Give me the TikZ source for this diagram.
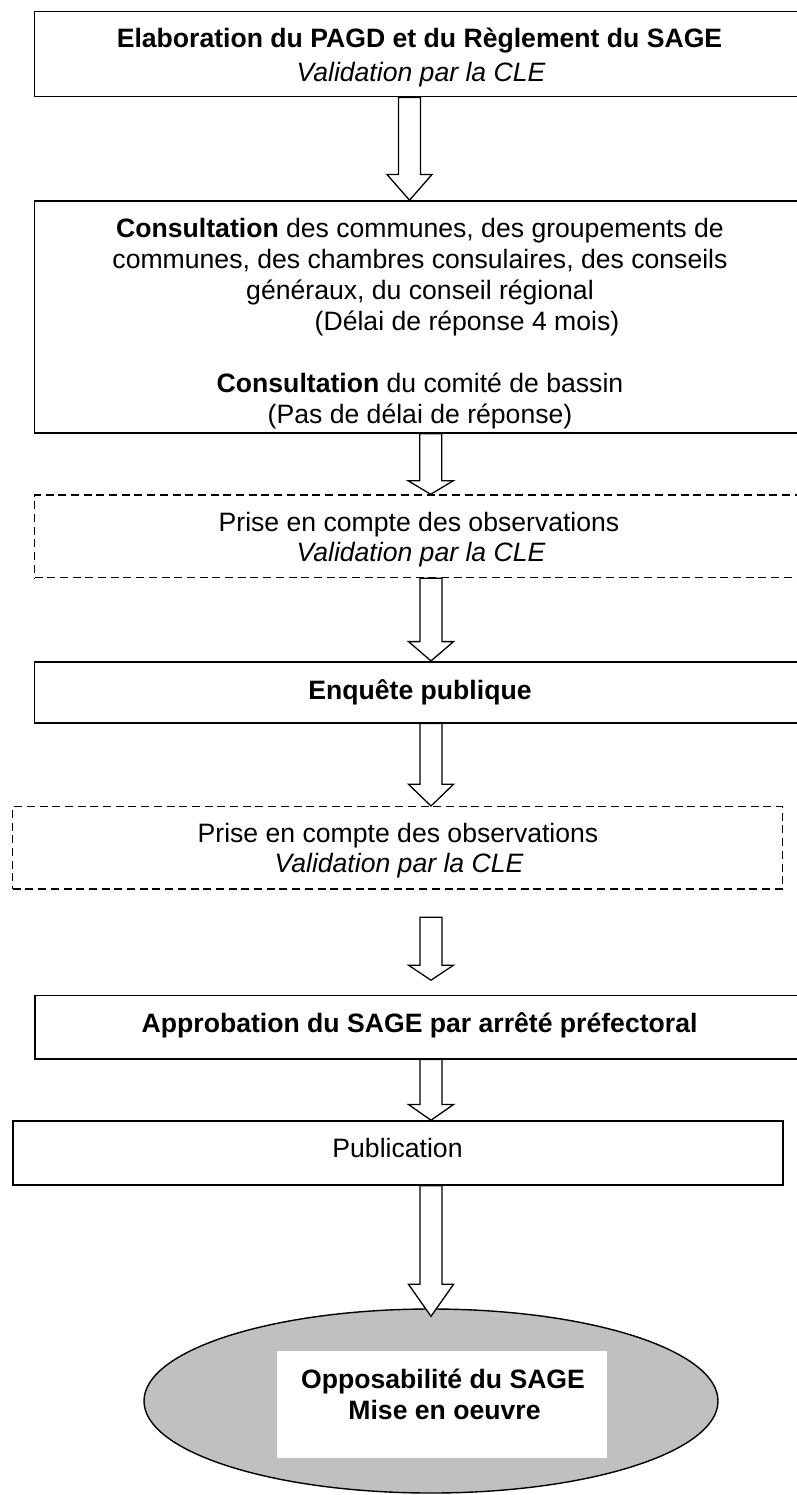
\documentclass[tikz,border=0pt]{standalone}
\usepackage{fontspec}
\setmainfont{Liberation Sans}
\usetikzlibrary{shapes.geometric,calc}
\definecolor{ellgray}{HTML}{C0C0C0}
\tikzset{
  boxframe/.style={draw, line width=1.6pt, rectangle, inner sep=0pt},
  dashframe/.style={boxframe, line width=1.3pt, dash pattern=on 8pt off 4.7pt},
  arr/.style={draw, line width=1.3pt, fill=white, line join=miter},
  txt/.style={anchor=base, inner sep=0pt, font=\fontsize{26.6}{30.9}\selectfont},
  btxt/.style={txt, font=\fontsize{26.6}{30.9}\selectfont\bfseries},
  itxt/.style={txt, font=\fontsize{26.6}{30.9}\selectfont\itshape},
}
\newcommand\blockarrow[4]{%
  \draw[arr] let \p1=#2, \p2=#3 in
    ({#1pt-11pt},\y1) -- ({#1pt-11pt},{\y2+#4pt}) -- ({#1pt-22.5pt},{\y2+#4pt})
    -- (#1pt,\y2) -- ({#1pt+22.5pt},{\y2+#4pt}) -- ({#1pt+11pt},{\y2+#4pt})
    -- ({#1pt+11pt},\y1) -- cycle;}
\begin{document}
\begin{tikzpicture}[x=1pt,y=-1pt]
\useasboundingbox (0,0) rectangle (796,1495);

% boxes (the wide ones run past the right edge of the page)
\node[boxframe, minimum width=800pt, minimum height=85pt] (b1) at (434.5,54.2) {};
\node[boxframe, minimum width=800pt, minimum height=232pt] (b2) at (434.5,317) {};
\node[dashframe, minimum width=800pt, minimum height=82.7pt] (b3) at (434.5,536.3) {};
\node[boxframe, minimum width=800pt, minimum height=61pt] (b4) at (434.5,692.2) {};
\node[dashframe, minimum width=770pt, minimum height=82.3pt] (b5) at (397.7,847.8) {};
\node[boxframe, minimum width=800pt, minimum height=63.4pt] (b6) at (434.7,1027) {};
\node[boxframe, minimum width=770pt, minimum height=64pt] (b7) at (397.7,1153) {};
\node[ellipse, draw, line width=1.4pt, fill=ellgray, inner sep=0pt,
      minimum width=574pt, minimum height=184pt] (ell) at (431,1401) {};
\node[fill=white, inner sep=0pt, minimum width=330pt, minimum height=106.7pt] (wr) at (441.7,1404.3) {};

% texts
\node[btxt] (t1a) at (419.5,47.8) {Elaboration du PAGD et du Règlement du SAGE};
\node[itxt] (t1b) at (421,81.2) {Validation par la CLE};

\node[txt] (t2a) at (420,237.8) {\textbf{Consultation} des communes, des groupements de};
\node[txt] (t2b) at (420,268.7) {communes, des chambres consulaires, des conseils};
\node[txt] (t2c) at (420,299.6) {généraux, du conseil régional};
\node[txt] (t2d) at (467,330.5) {(Délai de réponse 4 mois)};
\node[txt] (t2e) at (420,392.3) {\textbf{Consultation} du comité de bassin};
\node[txt] (t2f) at (420,423.2) {(Pas de délai de réponse)};

\node[txt] (t3a) at (419,531.2) {Prise en compte des observations};
\node[itxt] (t3b) at (421,561.2) {Validation par la CLE};

\node[btxt] (t4) at (420,699.5) {Enquête publique};

\node[txt] (t5a) at (398,842.5) {Prise en compte des observations};
\node[itxt] (t5b) at (399,872.5) {Validation par la CLE};

\node[btxt] (t6) at (419.6,1032.2) {Approbation du SAGE par arrêté préfectoral};
\node[txt] (t7) at (397.5,1157.8) {Publication};

\node[btxt] (t8a) at (443,1388.8) {Opposabilité du SAGE};
\node[btxt] (t8b) at (444.5,1419.5) {Mise en oeuvre};

% block arrows
\blockarrow{409.5}{(b1.south)}{(b2.north)}{25.7}
\blockarrow{430.7}{(b2.south)}{(b3.north)}{13.5}
\blockarrow{431}{(b3.south)}{(b4.north)}{19.3}
\blockarrow{431}{(b4.south)}{(b5.north)}{21.7}
\blockarrow{431}{($(b5.south)+(0,27.7)$)}{($(b6.north)+(0,-14.3)$)}{15}
\blockarrow{431}{(b6.south)}{(b7.north)}{15.7}
\blockarrow{431}{(b7.south)}{($(ell.north)+(0,8)$)}{32}
\end{tikzpicture}
\end{document}
